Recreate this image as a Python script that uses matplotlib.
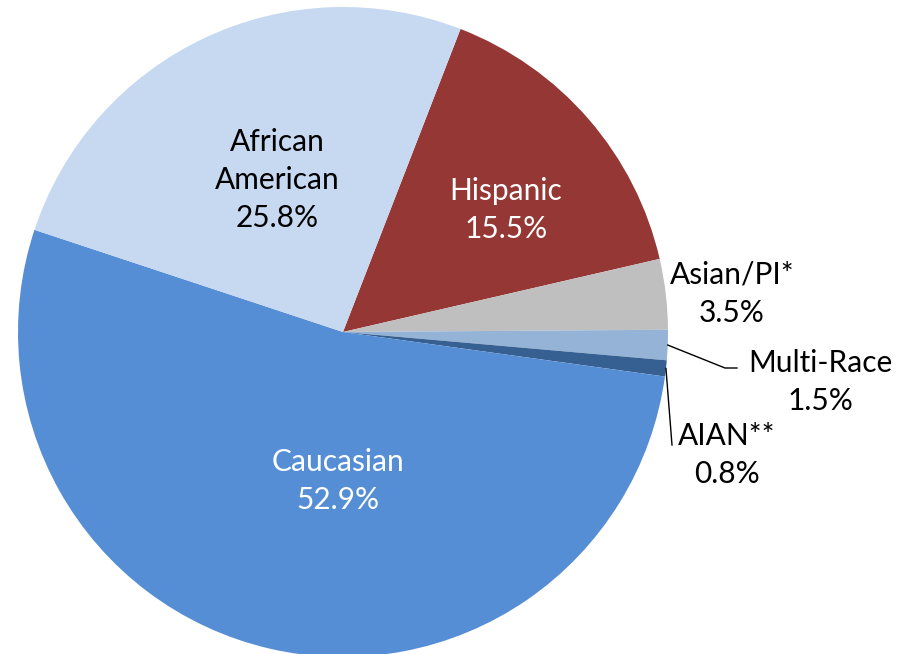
import numpy as np
import matplotlib.pyplot as plt

labels = ['Hispanic', 'Asian/PI*', 'Multi-Race', 'AIAN**', 'Caucasian', 'African\nAmerican']
values = [15.5, 3.5, 1.5, 0.8, 52.9, 25.8]
colors = ['#953735', '#BFBFBF', '#95B3D7', '#376092', '#558ED5', '#C6D9F1']

W, H = 905, 654
cx, cy, R = 343, 332, 325

def px(x, y):
    # pixel position -> data coords (pie radius = 1)
    return (x - cx) / R, (cy - y) / R

fig = plt.figure(figsize=(W / 100, H / 100), dpi=100)
ax = fig.add_axes([(cx - R) / W, (H - cy - R) / H, 2 * R / W, 2 * R / H])
wedges, _ = ax.pie(values, colors=colors, startangle=68.8, counterclock=False,
                   radius=1, wedgeprops=dict(linewidth=0))
ax.set_xlim(-1, 1)
ax.set_ylim(-1, 1)
ax.set_aspect('equal')
ax.axis('off')

font = dict(family=['Lato', 'DejaVu Sans'], fontsize=21.5, ha='center', va='center',
            linespacing=1.45)

# label centres (pixels) and colours
pos = [(506, 210), (732, 294), (820, 382), (727, 455), (338, 481), (277, 180)]
tcol = ['white', 'black', 'black', 'black', 'white', 'black']
for lab, v, p, c in zip(labels, values, pos, tcol):
    ax.text(*px(*p), f'{lab}\n{v}%', color=c, **font)

# leader lines for the two thin slices
def mid_edge(w):
    a = np.deg2rad((w.theta1 + w.theta2) / 2)
    return np.cos(a), np.sin(a)

ax.plot(*zip(mid_edge(wedges[2]), px(725, 368), px(737, 368)), color='black', lw=1,
        clip_on=False)
ax.plot(*zip(mid_edge(wedges[3]), px(672, 445)), color='black', lw=1, clip_on=False)

fig.savefig('out.png', dpi=100)
